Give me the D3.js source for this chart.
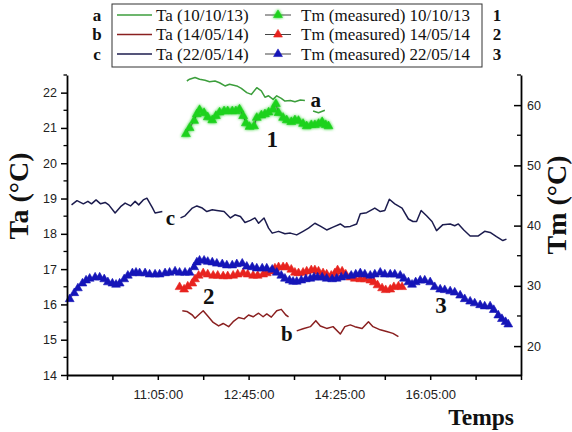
<!DOCTYPE html>
<html><head><meta charset="utf-8">
<script src="https://cdnjs.cloudflare.com/ajax/libs/d3/7.8.5/d3.min.js"></script>
<style>body{margin:0;background:#fff}svg{display:block}</style>
</head><body><svg id="chart" width="572" height="432"></svg>
<script>
// ---------- DATA ----------
const legendLabels = ["Ta (10/10/13)", "Ta (14/05/14)", "Ta (22/05/14)"];
const legendTmLabels = ["Tm (measured) 10/10/13", "Tm (measured) 14/05/14", "Tm (measured) 22/05/14"];
const legendLetters = ["a", "b", "c"];
const legendNumbers = ["1", "2", "3"];

const xTickTimes = ["09:25","10:15","11:05","11:55","12:45","13:35","14:25","15:15","16:05","16:55","17:45"];
const xTickLabelled = ["11:05","12:45","14:25","16:05"];
const leftTicks = [14,15,16,17,18,19,20,21,22];
const rightTicks = [20,30,40,50,60];

// Ta (10/10/13)  -- null marks a break in the curve
const taA = [["11:37",22.33],["11:40",22.38],["11:46",22.43],["11:51",22.38],["11:57",22.35],["12:02",22.31],["12:08",22.33],["12:13",22.28],["12:19",22.19],["12:24",22.24],["12:32",22.19],["12:37",22.12],["12:43",22.00],["12:48",21.95],["12:54",22.14],["12:59",22.05],["13:03",21.87],["13:07",21.91],["13:12",21.81],["13:16",21.91],["13:21",21.84],["13:25",21.76],["13:31",21.78],["13:36",21.74],["13:42",21.79],["13:47",21.78],["13:52",null],["13:56",21.48],["14:02",21.43],["14:09",21.50]];
// Ta (14/05/14)
const taB = [["11:32",15.82],["11:37",15.80],["11:43",15.70],["11:46",15.61],["11:51",15.73],["11:55",15.82],["12:00",15.67],["12:06",15.49],["12:12",15.39],["12:17",15.46],["12:23",15.37],["12:28",15.51],["12:34",15.63],["12:40",15.59],["12:45",15.70],["12:50",15.65],["12:56",15.75],["13:01",15.65],["13:05",15.73],["13:10",15.64],["13:16",15.82],["13:21",15.86],["13:26",15.70],["13:29",15.65],["13:33",null],["13:38",15.25],["13:45",15.31],["13:53",15.37],["13:59",15.54],["14:04",15.39],["14:11",15.32],["14:18",15.37],["14:26",15.16],["14:31",15.37],["14:37",15.42],["14:42",15.37],["14:50",15.32],["14:57",15.51],["15:02",15.37],["15:10",15.28],["15:17",15.23],["15:24",15.18],["15:30",15.09]];
// Ta (22/05/14)
const taC = [["09:30",18.82],["09:36",18.94],["09:43",18.85],["09:48",18.92],["09:52",18.85],["09:57",18.96],["10:02",18.85],["10:07",18.89],["10:11",18.82],["10:18",18.59],["10:24",18.77],["10:29",18.87],["10:35",18.79],["10:40",18.92],["10:44",18.82],["10:49",18.96],["10:53",19.01],["10:59",18.74],["11:02",18.59],["11:10",18.63],["11:20",null],["11:30",18.45],["11:35",18.51],["11:43",18.73],["11:48",18.79],["11:54",18.73],["11:59",18.63],["12:05",18.68],["12:10",18.66],["12:18",18.63],["12:25",18.45],["12:30",18.54],["12:36",18.49],["12:41",18.32],["12:47",18.38],["12:52",18.45],["12:56",18.30],["13:02",18.45],["13:07",18.16],["13:11",18.02],["13:18",18.07],["13:25",18.00],["13:31",18.02],["13:38",17.97],["13:45",18.07],["13:51",18.16],["13:58",18.30],["14:04",18.22],["14:11",18.11],["14:18",18.19],["14:26",18.28],["14:31",18.19],["14:37",18.21],["14:44",18.28],["14:48",18.57],["14:55",18.60],["15:04",18.73],["15:10",18.63],["15:15",18.66],["15:20",18.98],["15:26",18.85],["15:34",18.73],["15:41",18.42],["15:46",18.35],["15:50",18.35],["15:55",18.66],["16:01",18.51],["16:07",18.35],["16:12",18.09],["16:19",18.26],["16:27",18.28],["16:32",18.23],["16:36",18.28],["16:42",18.11],["16:49",17.94],["16:58",17.94],["17:05",18.07],["17:11",18.04],["17:18",17.92],["17:25",17.81],["17:29",17.85]];

// Tm measured 10/10/13
const tm1 = [["11:36",55.2],["11:40",56.2],["11:45",57.4],["11:48",58.5],["11:51",59.2],["11:56",58.7],["12:00",58.0],["12:05",57.5],["12:09",58.2],["12:13",58.8],["12:18",59.0],["12:22",59.0],["12:27",59.0],["12:31",59.0],["12:35",59.3],["12:39",58.2],["12:42",57.0],["12:46",56.4],["12:51",56.5],["12:54",57.9],["12:59",58.3],["13:03",58.5],["13:07",58.8],["13:12",59.3],["13:15",60.2],["13:18",58.7],["13:23",57.9],["13:27",57.5],["13:32",57.2],["13:36",57.5],["13:40",57.4],["13:45",56.9],["13:49",56.5],["13:54",56.7],["13:58",56.7],["14:02",56.9],["14:06",57.2],["14:10",56.7],["14:13",56.5]];
// Tm measured 14/05/14
const tm2 = [["11:29",29.8],["11:34",29.4],["11:38",29.9],["11:43",30.4],["11:46",31.1],["11:50",31.7],["11:55",32.1],["12:00",31.9],["12:06",31.7],["12:11",31.7],["12:17",31.6],["12:22",31.6],["12:28",31.7],["12:33",31.9],["12:39",32.1],["12:44",31.9],["12:50",31.7],["12:55",31.7],["13:01",31.9],["13:05",32.1],["13:10",32.4],["13:14",32.9],["13:18",33.1],["13:23",33.1],["13:27",33.1],["13:32",32.7],["13:36",32.2],["13:40",32.1],["13:45",32.2],["13:49",32.4],["13:54",32.6],["13:58",32.6],["14:02",32.4],["14:07",32.1],["14:11",31.9],["14:16",31.7],["14:20",32.1],["14:23",32.6],["14:28",32.4],["14:32",31.9],["14:37",31.4],["14:42",31.2],["14:48",31.1],["14:53",31.1],["14:59",30.9],["15:03",30.6],["15:07",30.1],["15:12",29.6],["15:16",29.3],["15:21",29.4],["15:25",29.8],["15:30",29.9],["15:34",29.8]];
// Tm measured 22/05/14
const tm3 = [["09:28",27.8],["09:33",28.8],["09:37",29.6],["09:42",30.4],["09:46",30.9],["09:50",31.2],["09:56",31.4],["10:01",31.4],["10:06",31.1],["10:10",30.6],["10:15",30.4],["10:19",30.2],["10:23",30.4],["10:28",31.1],["10:32",31.7],["10:37",32.1],["10:41",32.2],["10:45",32.1],["10:51",32.1],["10:56",31.9],["11:02",31.9],["11:07",31.9],["11:13",32.1],["11:18",32.2],["11:24",32.4],["11:29",32.2],["11:35",32.2],["11:40",32.2],["11:45",33.1],["11:48",33.9],["11:51",34.2],["11:56",34.2],["12:00",34.0],["12:05",33.9],["12:10",33.7],["12:16",33.6],["12:21",33.4],["12:27",33.4],["12:32",33.6],["12:38",33.7],["12:43",33.2],["12:49",33.1],["12:54",32.9],["13:00",32.9],["13:05",32.9],["13:11",32.7],["13:16",32.2],["13:21",31.7],["13:25",31.2],["13:30",30.9],["13:34",30.7],["13:38",30.7],["13:43",30.9],["13:48",31.1],["13:53",31.2],["13:57",31.4],["14:01",31.4],["14:06",31.4],["14:11",31.2],["14:17",31.1],["14:22",31.2],["14:27",31.4],["14:32",31.6],["14:38",31.7],["14:43",31.9],["14:48",32.1],["14:53",31.9],["14:59",31.7],["15:04",31.9],["15:10",32.2],["15:15",31.9],["15:21",31.9],["15:26",31.9],["15:32",31.7],["15:36",31.2],["15:41",30.6],["15:45",30.2],["15:49",30.6],["15:54",30.9],["15:59",30.9],["16:05",30.6],["16:10",29.8],["16:16",29.4],["16:21",29.3],["16:27",29.1],["16:32",28.9],["16:38",28.4],["16:43",27.8],["16:49",27.4],["16:54",27.1],["17:00",26.8],["17:05",26.6],["17:11",26.6],["17:15",26.0],["17:20",25.1],["17:24",24.5],["17:28",24.0],["17:31",23.6]];

// curve annotations: [text, time, value, axis]
const annotations = [["a","13:59",21.80,"L"],["b","13:27",15.16,"L"],["c","11:19",18.45,"L"],["1","13:11",54.4,"R"],["2","12:01",28.3,"R"],["3","16:17",26.9,"R"]];

// ---------- STYLE ----------
const taColors = ["#3c9e3c", "#8a2020", "#1c1c4e"];
const tmColors = ["#1fd21f", "#e8231f", "#1515b8"];
const serif = "'Liberation Serif','Times New Roman',serif";
const sans = "'Liberation Sans',Arial,sans-serif";

const parse = d3.timeParse("%H:%M");
const svg = d3.select("#chart");

const x = d3.scaleTime().domain([parse("09:25"), parse("17:45")]).range([67, 521]);
const yL = d3.scaleLinear().domain([14, 22.5]).range([375, 75]);
const yR = d3.scaleLinear().domain([15.2, 65]).range([375, 75]);

const defs = svg.append("defs");
const f = defs.append("filter").attr("id","glow").attr("x","-20%").attr("y","-20%").attr("width","140%").attr("height","140%");
f.append("feGaussianBlur").attr("in","SourceGraphic").attr("stdDeviation",1.8).attr("result","b");
const fm = f.append("feMerge");
fm.append("feMergeNode").attr("in","b");
fm.append("feMergeNode").attr("in","SourceGraphic");

// Ta lines
[taA, taB, taC].forEach((s, i) => {
  const line = d3.line().defined(d => d[1] != null).x(d => x(parse(d[0]))).y(d => yL(d[1]));
  svg.append("path").attr("d", line(s)).attr("fill","none")
    .attr("stroke", taColors[i]).attr("stroke-width", 1.5).attr("stroke-linejoin","round");
});

// Tm series
const tri = d3.symbol().type(d3.symbolTriangle).size(34);
[tm1, tm2, tm3].forEach((s, i) => {
  const g = svg.append("g");
  if (i === 0) g.attr("filter","url(#glow)");
  const line = d3.line().x(d => x(parse(d[0]))).y(d => yR(d[1]));
  g.append("path").attr("d", line(s)).attr("fill","none").attr("stroke","#333").attr("stroke-width",0.8);
  g.selectAll("path.m").data(s).join("path").attr("class","m")
    .attr("d", tri).attr("transform", d => `translate(${x(parse(d[0]))},${yR(d[1])})`)
    .attr("fill", tmColors[i]).attr("stroke", tmColors[i]).attr("stroke-width", 0.6);
});

// annotations
annotations.forEach(a => {
  const yy = a[3] === "L" ? yL(a[2]) : yR(a[2]);
  svg.append("text").attr("x", x(parse(a[1]))).attr("y", yy).attr("dy","0.35em")
    .attr("text-anchor","middle").attr("font-family", serif).attr("font-weight","bold")
    .attr("font-size", a[3] === "L" ? 21 : 23).attr("fill","#111").text(a[0]);
});

// axes
const axisStyle = g => {
  g.selectAll(".domain").attr("stroke","#000").attr("stroke-width",1.8);
  g.selectAll(".tick line").attr("stroke","#000").attr("stroke-width",1.5);
  g.selectAll("text").attr("font-family", sans).attr("font-size",12.5).attr("fill","#222");
};
// left
const gL = svg.append("g").attr("transform","translate(67,0)")
  .call(d3.axisLeft(yL).tickValues(leftTicks).tickSizeInner(6).tickSizeOuter(0).tickPadding(4));
axisStyle(gL);
gL.selectAll(".minor").data(leftTicks.map(v => v + 0.5)).join("line").attr("class","minor")
  .attr("x1",-3.5).attr("x2",0).attr("y1",d => yL(d)).attr("y2",d => yL(d)).attr("stroke","#000").attr("stroke-width",1.3);
// right
const gR = svg.append("g").attr("transform","translate(521,0)")
  .call(d3.axisRight(yR).tickValues(rightTicks).tickSizeInner(-7).tickSizeOuter(0).tickPadding(6));
axisStyle(gR);
gR.selectAll(".minor").data(rightTicks.map(v => v + 5)).join("line").attr("class","minor")
  .attr("x1",-4).attr("x2",0).attr("y1",d => yR(d)).attr("y2",d => yR(d)).attr("stroke","#000").attr("stroke-width",1.3);
// bottom
const fmt = d3.timeFormat("%H:%M:%S");
const gB = svg.append("g").attr("transform","translate(0,375)")
  .call(d3.axisBottom(x).tickValues(xTickTimes.map(parse))
    .tickFormat(d => xTickLabelled.includes(d3.timeFormat("%H:%M")(d)) ? fmt(d) : "")
    .tickSizeInner(5).tickSizeOuter(0).tickPadding(10));
axisStyle(gB);
gB.selectAll("text").attr("font-size",13);

// axis titles
svg.append("text").attr("transform","translate(28,196) rotate(-90)").attr("text-anchor","middle")
  .attr("font-family", serif).attr("font-weight","bold").attr("font-size",28).attr("fill","#111").text("Ta (°C)");
svg.append("text").attr("transform","translate(566,205) rotate(-90)").attr("text-anchor","middle")
  .attr("font-family", serif).attr("font-weight","bold").attr("font-size",28).attr("fill","#111").text("Tm (°C)");
svg.append("text").attr("x",514).attr("y",425).attr("text-anchor","end")
  .attr("font-family", serif).attr("font-weight","bold").attr("font-size",23.5).attr("fill","#111").text("Temps");

// legend
svg.append("rect").attr("x",112).attr("y",4).attr("width",370).attr("height",63)
  .attr("fill","#fff").attr("stroke","#333").attr("stroke-width",1);
legendLabels.forEach((lab, i) => {
  const cy = 15 + 19.5 * i;
  svg.append("text").attr("x",97).attr("y",cy).attr("dy","0.33em").attr("text-anchor","middle")
    .attr("font-family", serif).attr("font-weight","bold").attr("font-size",17).attr("fill","#111").text(legendLetters[i]);
  svg.append("line").attr("x1",117).attr("x2",152).attr("y1",cy).attr("y2",cy)
    .attr("stroke", taColors[i]).attr("stroke-width",1.6);
  svg.append("text").attr("x",156).attr("y",cy).attr("dy","0.33em")
    .attr("font-family", serif).attr("font-size",17).attr("fill","#111").text(lab);
  svg.append("line").attr("x1",265).attr("x2",291).attr("y1",cy).attr("y2",cy)
    .attr("stroke","#444").attr("stroke-width",1);
  const gm = svg.append("path").attr("d", tri).attr("transform",`translate(278,${cy})`)
    .attr("fill", tmColors[i]).attr("stroke", tmColors[i]).attr("stroke-width",0.6);
  if (i === 0) gm.attr("filter","url(#glow)");
  svg.append("text").attr("x",301).attr("y",cy).attr("dy","0.33em")
    .attr("font-family", serif).attr("font-size",17).attr("fill","#111").text(legendTmLabels[i]);
  svg.append("text").attr("x",497).attr("y",cy).attr("dy","0.35em").attr("text-anchor","middle")
    .attr("font-family", serif).attr("font-weight","bold").attr("font-size",17).attr("fill","#111").text(legendNumbers[i]);
});
</script></body></html>
